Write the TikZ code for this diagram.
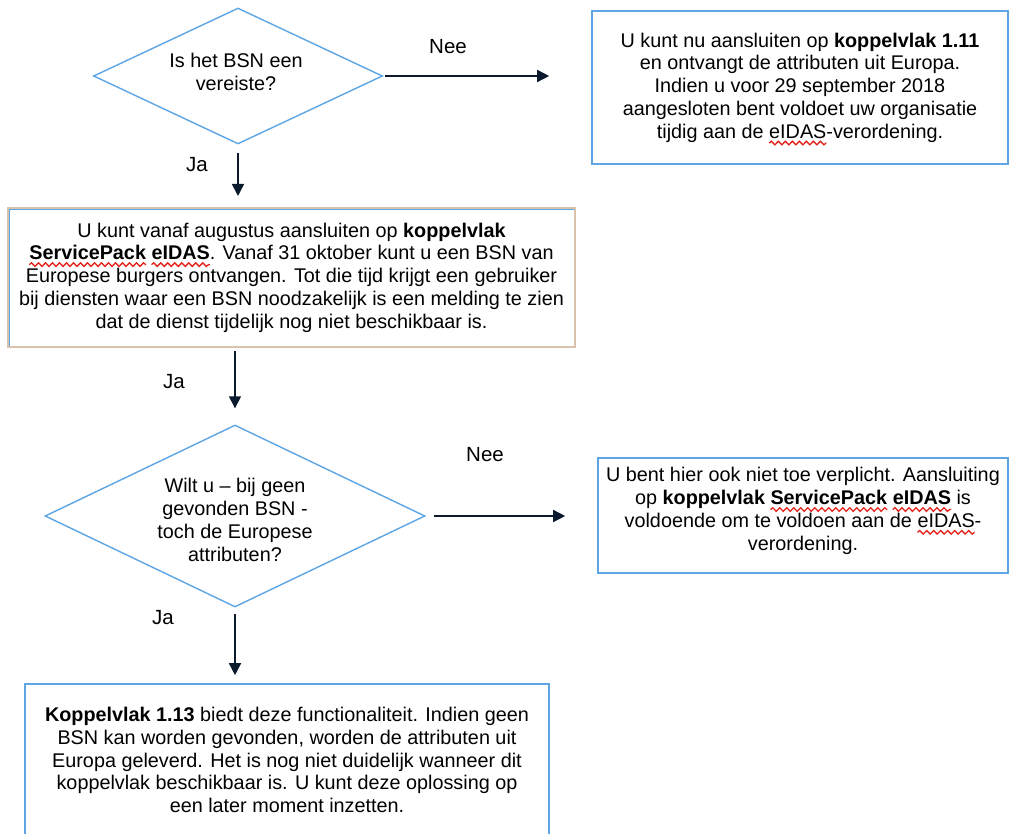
\documentclass[tikz,border=0pt]{standalone}
\usepackage{fontspec}
\setmainfont{Liberation Sans}
\usetikzlibrary{shapes.geometric,arrows.meta,decorations.pathmorphing}
\definecolor{bblue}{HTML}{5DA5E3}
\definecolor{boxtan}{HTML}{D9C2AE}
\definecolor{arrowc}{HTML}{0B1A2C}
\definecolor{wavered}{HTML}{E4231C}
\newsavebox\sqbox
\newlength\sqw
\newcommand\sq[1]{\sbox\sqbox{#1}\setlength\sqw{\wd\sqbox}\tikz[baseline=0pt]\draw[overlay,wavered,line width=1.3pt,decorate,decoration={snake,amplitude=1.8pt,segment length=7pt}] (0pt,-4.8pt) -- (\sqw,-4.8pt);\usebox\sqbox}
\tikzset{
  txt/.style={font=\fontsize{19.8}{22.8}\selectfont, align=center, inner sep=0pt},
  lab/.style={font=\fontsize{20.5}{24}\selectfont, inner sep=0pt},
  dia/.style={shape=diamond, draw=bblue, line width=1.4pt, inner sep=0pt},
  bx/.style={draw=bblue, line width=1.6pt, inner sep=0pt, align=center, font=\fontsize{19.8}{22.8}\selectfont},
  arr/.style={draw=arrowc, line width=1.5pt, -{Triangle[length=12pt,width=12pt]}}
}
\begin{document}
\begin{tikzpicture}[x=1pt,y=-1pt]
\useasboundingbox[fill=white] (0,0) rectangle (1009,834);
\clip (0,0) rectangle (1009,834);
% decision 1
\node[dia, minimum width=289pt, minimum height=136pt] (d1) at (238,76) {};
\node[txt] (t1) at (236,72) {Is het BSN een\\vereiste?};
% box 1
\node[bx, minimum width=416pt, minimum height=153pt] (b1) at (800,87.5)
 {U kunt nu aansluiten op \textbf{koppelvlak 1.11}\\
  en ontvangt de attributen uit Europa.\\
  Indien u voor 29 september 2018\\
  aangesloten bent voldoet uw organisatie\\
  tijdig aan de \sq{eIDAS}-verordening.};
% box 2
\node[bx, draw=boxtan, line width=2pt, minimum width=567pt, minimum height=139pt] (b2) at (291.5,277.5)
 {U kunt vanaf augustus aansluiten op \textbf{koppelvlak}\\
  \sq{\textbf{ServicePack}} \sq{\textbf{eIDAS}}. Vanaf 31 oktober kunt u een BSN van\\
  Europese burgers ontvangen. Tot die tijd krijgt een gebruiker\\
  bij diensten waar een BSN noodzakelijk is een melding te zien\\
  dat de dienst tijdelijk nog niet beschikbaar is.};
\draw[bblue, line width=1.2pt] ([shift={(2.2pt,2.2pt)}]b2.south west) -- ([shift={(2.2pt,-2.2pt)}]b2.north west) -- ([shift={(-2.2pt,-2.2pt)}]b2.north east);
% decision 2
\node[dia, minimum width=380pt, minimum height=182pt] (d2) at (235,516) {};
\node[txt] (t2) at (235,520) {Wilt u – bij geen\\gevonden BSN -\\toch de Europese\\attributen?};
% box 4
\node[bx, minimum width=410pt, minimum height=115pt] (b4) at (803,515.5) {};
\node[txt] (t4) at (803,511)
 {U bent hier ook niet toe verplicht. Aansluiting\\
  op \textbf{koppelvlak} \sq{\textbf{ServicePack}} \sq{\textbf{eIDAS}} is\\
  voldoende om te voldoen aan de \sq{eIDAS}-\\
  verordening.};
% box 5
\node[bx, minimum width=524pt, minimum height=152pt] (b5) at (287,760)
 {\textbf{Koppelvlak 1.13} biedt deze functionaliteit. Indien geen\\
  BSN kan worden gevonden, worden de attributen uit\\
  Europa geleverd. Het is nog niet duidelijk wanneer dit\\
  koppelvlak beschikbaar is. U kunt deze oplossing op\\
  een later moment inzetten.};
% connectors
\draw[arr, shorten <=2pt, shorten >=42pt] (d1.east) -- (d1.east -| b1.west);
\draw[arr, shorten <=8pt, shorten >=11pt] (d1.south) -- (d1.south |- b2.north);
\draw[arr, shorten <=3pt, shorten >=16pt] (d2.north |- b2.south) -- (d2.north);
\draw[arr, shorten <=8pt, shorten >=32pt] (d2.east) -- (d2.east -| b4.west);
\draw[arr, shorten <=6pt, shorten >=8pt] (d2.south) -- (d2.south |- b5.north);
% labels
\node[lab] (n1) at (448,47) {Nee};
\node[lab] (j1) at (197,165) {Ja};
\node[lab] (j2) at (174,382) {Ja};
\node[lab] (n2) at (485,455) {Nee};
\node[lab] (j3) at (163,618) {Ja};
\end{tikzpicture}
\end{document}
